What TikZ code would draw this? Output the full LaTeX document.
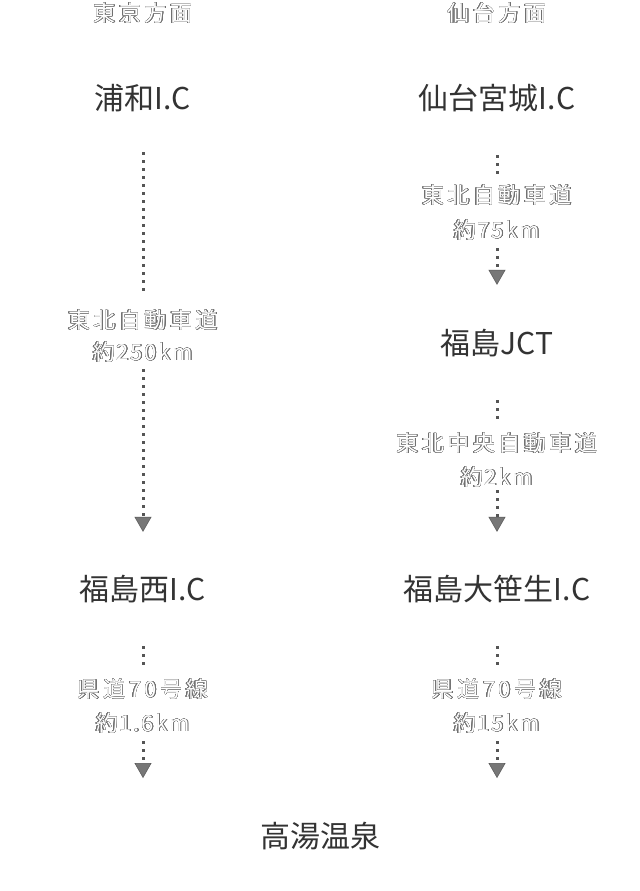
\documentclass[tikz,border=0pt]{standalone}
\usepackage{fontspec}
\setmainfont{Noto Sans CJK JP}
\newfontfamily\labfont[LetterSpace=16]{Noto Sans CJK JP}
\newfontfamily\labfontb[Kerning=Off,LetterSpace=8]{Noto Sans CJK JP}
\usepackage{contour}
\contourlength{0.45pt}
\contournumber{20}
\usetikzlibrary{arrows.meta}
\definecolor{txt}{HTML}{333333}
\definecolor{olgray}{HTML}{707070}
\definecolor{dotc}{HTML}{555555}
\definecolor{arrc}{HTML}{777777}
\newcommand\olt[1]{{\color{white}\contour{olgray}{#1}}}
\tikzset{
  station/.style={font=\fontsize{30bp}{36bp}\selectfont, text=txt, inner sep=0pt,
    text height=25bp, text depth=2bp, anchor=center},
  lab/.style={font=\labfont\fontsize{22bp}{26bp}\selectfont, inner sep=0pt,
    text height=18.5bp, text depth=1.5bp, anchor=center},
  labb/.style={font=\labfontb\fontsize{22bp}{26bp}\selectfont, inner sep=0pt,
    text height=18.5bp, text depth=1.5bp, anchor=center},
  conn/.style={draw=dotc, line width=3bp, line cap=butt, dash pattern=on 3bp off 5bp},
  connarr/.style={conn, -{Triangle[width=17bp,length=15bp,fill=arrc,color=dotc,line width=0.5bp]}}
}
\begin{document}
\begin{tikzpicture}[x=1bp,y=-1bp]
\fill[white] (0,0) rectangle (640,891);
\useasboundingbox (0,0) rectangle (640,891);

% headings
\node[lab] (htokyo) at (143,13) {\olt{東京方面}};
\node[lab] (hsendai) at (497,13) {\olt{仙台方面}};

% stations
\node[station] (urawa) at (143,98) {浦和I.C};
\node[station] (sendai) at (497,98) {仙台宮城I.C};
\node[station] (fjct) at (497,343) {福島JCT};
\node[station] (fnishi) at (143,589) {福島西I.C};
\node[station] (fosa) at (497,589) {福島大笹生I.C};
\node[station] (takayu) at (320,836) {高湯温泉};

% labels
\node[lab] (l1a) at (143,320) {\olt{東北自動車道}};
\node[labb] (l1b) at (143,352) {\olt{約250km}};
\node[lab] (r1a) at (497,195) {\olt{東北自動車道}};
\node[labb] (r1b) at (497,230) {\olt{約75km}};
\node[lab] (r2a) at (497,443) {\olt{東北中央自動車道}};
\node[labb] (r2b) at (497,477) {\olt{約2km}};
\node[lab] (l3a) at (143,689) {\olt{県道70号線}};
\node[labb] (l3b) at (143,723) {\olt{約1.6km}};
\node[lab] (r3a) at (497,689) {\olt{県道70号線}};
\node[labb] (r3b) at (497,723) {\olt{約15km}};

\coordinate (e1) at (143,778);
\coordinate (e2) at (497,778);

% connectors
\draw[conn, shorten <=40.5bp, shorten >=14bp] (urawa) -- (l1a);
\draw[connarr, shorten <=7bp, shorten >=43.5bp] (l1b) -- (fnishi);

\draw[conn, shorten <=43.5bp, shorten >=10bp] (sendai) -- (r1a);
\draw[connarr, shorten <=8bp, shorten >=44.5bp] (r1b) -- (fjct);

\draw[conn, shorten <=43.5bp, shorten >=10bp] (fjct) -- (r2a);
\draw[connarr, shorten <=3bp, shorten >=43.5bp] (r2b) -- (fosa);

\draw[conn, shorten <=43.5bp, shorten >=10bp] (fnishi) -- (l3a);
\draw[connarr, shorten <=8bp] (l3b) -- (e1);

\draw[conn, shorten <=43.5bp, shorten >=10bp] (fosa) -- (r3a);
\draw[connarr, shorten <=8bp] (r3b) -- (e2);
\end{tikzpicture}
\end{document}
